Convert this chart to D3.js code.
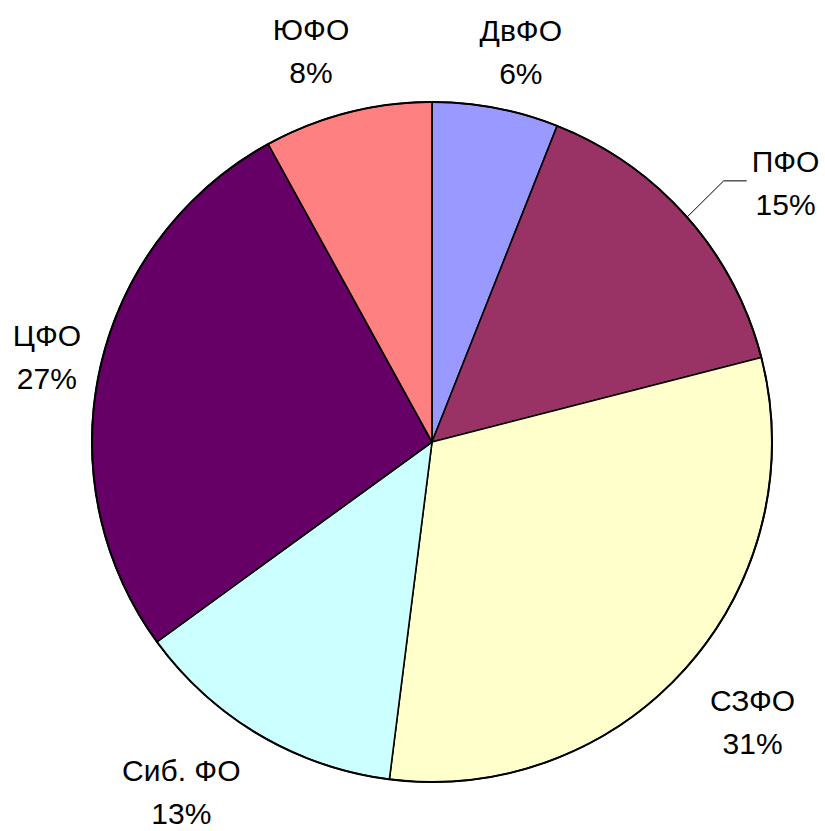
<!DOCTYPE html>
<html>
<head>
<meta charset="utf-8">
<script src="https://cdn.jsdelivr.net/npm/d3@7/dist/d3.min.js"></script>
<style>
  html, body { margin: 0; padding: 0; background: #fff; }
  svg { display: block; }
  text { font-family: "Liberation Sans", Arial, sans-serif; font-size: 30px; fill: #000; }
</style>
</head>
<body>
<svg id="chart"></svg>
<script>
// Data — clockwise from 12 o'clock
const regions = ['ДвФО', 'ПФО', 'СЗФО', 'Сиб. ФО', 'ЦФО', 'ЮФО'];
const shares  = [6, 15, 31, 13, 27, 8];
const colors  = ['#9999FF', '#993366', '#FFFFCC', '#CCFFFF', '#660066', '#FF8080'];

const W = 825, H = 831;
const cx = 432, cy = 442, R = 340;
const LABEL_R = 410;
// hand-placed label nudges (px), like dragged labels in the original
const labelNudge = [[12, 23], [46, 23], [13, 19], [-42, 8], [15, 15], [-19, 17]];
const withLeader = [false, true, false, false, false, false];

const svg = d3.select('#chart').attr('width', W).attr('height', H);
const g = svg.append('g').attr('transform', `translate(${cx},${cy})`);

const pie = d3.pie().sort(null).value(d => d.value);
const arcs = pie(regions.map((name, i) => ({ name, value: shares[i], color: colors[i] })));
const arc = d3.arc().innerRadius(0).outerRadius(R);

g.selectAll('path.slice')
  .data(arcs)
  .enter()
  .append('path')
  .attr('class', 'slice')
  .attr('d', arc)
  .attr('fill', d => d.data.color)
  .attr('stroke', '#000')
  .attr('stroke-width', 1.6)
  .attr('stroke-linejoin', 'round');

// outer rim a touch heavier
g.append('circle').attr('r', R).attr('fill', 'none').attr('stroke', '#000').attr('stroke-width', 2);

const total = d3.sum(shares);

arcs.forEach((d, i) => {
  const mid = (d.startAngle + d.endAngle) / 2;
  const x = LABEL_R * Math.sin(mid) + labelNudge[i][0];
  const y = -LABEL_R * Math.cos(mid) + labelNudge[i][1];

  const t = g.append('text').attr('text-anchor', 'middle');
  t.append('tspan').attr('x', x).attr('y', y - 21.5).text(d.data.name);
  t.append('tspan').attr('x', x).attr('y', y + 21.5)
    .text(Math.round(d.data.value / total * 100) + '%');

  if (withLeader[i]) {
    const w = t.node().getBBox().width;
    const sx = R * Math.sin(mid), sy = -R * Math.cos(mid);
    const ex = x - w / 2 - 5, ey = y - 13;
    g.append('polyline')
      .attr('points', [[sx, sy], [ex - 23, ey], [ex, ey]].map(p => p.join(',')).join(' '))
      .attr('fill', 'none')
      .attr('stroke', '#000')
      .attr('stroke-width', 1);
  }
});
</script>
</body>
</html>
